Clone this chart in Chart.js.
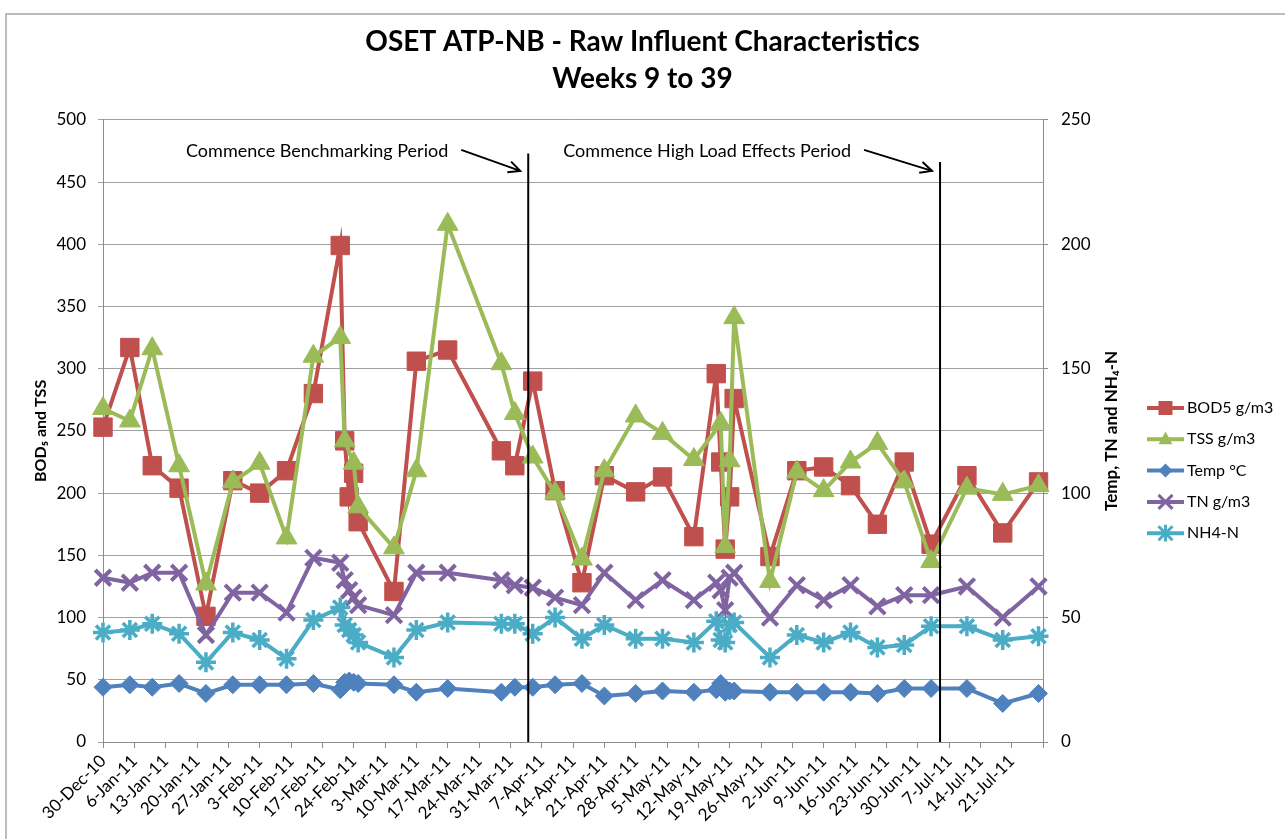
<!DOCTYPE html>
<html lang="en">
<head>
    <meta charset="UTF-8">
    <title>OSET ATP-NB - Raw Influent Characteristics</title>
    <script src="https://cdn.jsdelivr.net/npm/chart.js"></script>
    <style>
        body {
            margin: 0;
            background: #fff;
        }

        #wrap {
            width: 1285px;
            height: 839px;
        }
    </style>
</head>
<body>
    <div id="wrap"><canvas id="influentChart" width="1285" height="839"></canvas></div>

    <script>
        // Sample dates (weeks 9 to 39) and measured values
        const sampleDates = [
            '2010-12-30', '2011-01-05', '2011-01-10', '2011-01-16', '2011-01-22', '2011-01-28',
            '2011-02-03', '2011-02-09', '2011-02-15', '2011-02-21', '2011-02-22', '2011-02-23',
            '2011-02-24', '2011-02-25', '2011-03-05', '2011-03-10', '2011-03-17', '2011-03-29',
            '2011-04-01', '2011-04-05', '2011-04-10', '2011-04-16', '2011-04-21', '2011-04-28',
            '2011-05-04', '2011-05-11', '2011-05-16', '2011-05-17', '2011-05-18', '2011-05-19',
            '2011-05-20', '2011-05-28', '2011-06-03', '2011-06-09', '2011-06-15', '2011-06-21',
            '2011-06-27', '2011-07-03', '2011-07-11', '2011-07-19', '2011-07-27'
        ];
        const bod5 = [253, 317, 222, 204, 101, 210, 200, 218, 280, 399, 242, 197, 216, 177, 121, 306, 315, 234,
            222, 290, 202, 128, 214, 201, 213, 165, 296, 225, 155, 197, 276, 149, 218, 221, 206, 175, 225, 159,
            214, 168, 209];
        const tss = [268, 258, 316, 222, 127, 209, 224, 164, 310, 325, 242, null, 224, 189, 156, 218, 416, 304,
            264, 229, 200, 147, 218, 262, 248, 227, null, 256, 157, 226, 341, 129, 217, 202, 225, 240, 209, 145,
            204, 199, 206];
        const tempC = [22, 23, 22, 23.5, 19.5, 23, 23, 23, 23.5, 21, 24, 24.5, 24, 23.5, 23, 20, 21.5, 20,
            22, 22, 23, 23.5, 18.5, 19.5, 20.5, 20, 21, 23.5, 20, 20.5, 20.5, 20, 20, 20, 20, 19.5, 21.5, 21.5,
            21.5, 15.5, 19.5];
        const tn = [66, 64, 68, 68, 43, 60, 60, 52, 74, 72, 65, 61, 58, 55, 51, 68, 68, 65,
            63, 62, 58, 55, 68, 57, 65, 57, 64, 61, 53, 66, 68, 50, 63, 57, 63, 54.5, 59, 59,
            62.5, 50, 62.5];
        const nh4 = [44, 45, 47.5, 43.5, 32, 44, 41, 33.5, 49, 54, 47, 45, 43, 40, 34, 45, 48, 47.5,
            47.5, 43.5, 50, 41.5, 47, 41.5, 41.5, 40, 48.5, 41, 40, 47, 48, 34, 43, 40, 44, 38, 39, 46.5,
            46.5, 41, 42.5];

        // Period markers
        const periodStarts = ['2011-04-04', '2011-07-05'];
        const periodNotes = ['Commence Benchmarking Period', 'Commence High Load Effects Period'];

        const FONT = 'Lato, "Open Sans", sans-serif';
        const months = ['Jan', 'Feb', 'Mar', 'Apr', 'May', 'Jun', 'Jul', 'Aug', 'Sep', 'Oct', 'Nov', 'Dec'];
        const origin = Date.UTC(2010, 11, 30);
        const DAY = 86400000;

        function dayOf(iso) {
            const [y, m, d] = iso.split('-').map(Number);
            return (Date.UTC(y, m - 1, d) - origin) / DAY;
        }

        function dateLabel(day) {
            const dt = new Date(origin + day * DAY);
            return dt.getUTCDate() + '-' + months[dt.getUTCMonth()] + '-' + String(dt.getUTCFullYear()).slice(2);
        }

        function series(values) {
            return sampleDates.map((d, i) => ({ x: dayOf(d), y: values[i] }));
        }

        // simple marker drawing for the legend
        function drawMarker(ctx, style, x, y, r, color, bw) {
            ctx.save();
            ctx.fillStyle = color;
            ctx.strokeStyle = color;
            ctx.lineWidth = bw;
            ctx.beginPath();
            if (style === 'rect') {
                ctx.rect(x - r, y - r, 2 * r, 2 * r);
                ctx.fill();
            } else if (style === 'triangle') {
                ctx.moveTo(x, y - r * 1.1);
                ctx.lineTo(x + r, y + r * 0.7);
                ctx.lineTo(x - r, y + r * 0.7);
                ctx.closePath();
                ctx.fill();
            } else if (style === 'rectRot') {
                ctx.moveTo(x, y - r);
                ctx.lineTo(x + r, y);
                ctx.lineTo(x, y + r);
                ctx.lineTo(x - r, y);
                ctx.closePath();
                ctx.fill();
            } else {
                ctx.moveTo(x - r, y - r); ctx.lineTo(x + r, y + r);
                ctx.moveTo(x - r, y + r); ctx.lineTo(x + r, y - r);
                if (style === 'star') {
                    ctx.moveTo(x, y - r * 1.2); ctx.lineTo(x, y + r * 1.2);
                }
                ctx.stroke();
            }
            ctx.restore();
        }

        const extrasPlugin = {
            id: 'extras',
            beforeDraw(chart) {
                const ctx = chart.ctx;
                ctx.save();
                ctx.strokeStyle = '#a6a6a6';
                ctx.lineWidth = 1.5;
                ctx.beginPath();
                ctx.moveTo(6, 839);
                ctx.lineTo(6, 14);
                ctx.lineTo(1285, 14);
                ctx.stroke();
                ctx.restore();
            },
            afterDatasetsDraw(chart) {
                const ctx = chart.ctx;
                const xs = chart.scales.x;
                const ys = chart.scales.y;
                const area = chart.chartArea;
                const tops = [473, 466];
                const textGaps = [80, 89];
                ctx.save();
                periodStarts.forEach((d, i) => {
                    const px = xs.getPixelForValue(dayOf(d));
                    const top = ys.getPixelForValue(tops[i]);
                    ctx.strokeStyle = '#000';
                    ctx.lineWidth = 2;
                    ctx.beginPath();
                    ctx.moveTo(px, top);
                    ctx.lineTo(px, area.bottom);
                    ctx.stroke();

                    // note text and arrow
                    const ty = ys.getPixelForValue(475);
                    ctx.font = '18px ' + FONT;
                    ctx.fillStyle = '#000';
                    ctx.textAlign = 'right';
                    ctx.textBaseline = 'middle';
                    const tx = px - textGaps[i];
                    ctx.fillText(periodNotes[i], tx, ty);
                    const ax0 = tx + 13, ay0 = ty - 1;
                    const ax1 = px - 8, ay1 = ty + 20;
                    ctx.beginPath();
                    ctx.moveTo(ax0, ay0);
                    ctx.lineTo(ax1, ay1);
                    const ang = Math.atan2(ay1 - ay0, ax1 - ax0);
                    ctx.moveTo(ax1 - 13 * Math.cos(ang - 0.45), ay1 - 13 * Math.sin(ang - 0.45));
                    ctx.lineTo(ax1, ay1);
                    ctx.lineTo(ax1 - 13 * Math.cos(ang + 0.45), ay1 - 13 * Math.sin(ang + 0.45));
                    ctx.stroke();
                });
                ctx.restore();
            },
            afterDraw(chart) {
                const ctx = chart.ctx;
                const ys = chart.scales.y;
                // right axis title, reading bottom to top
                ctx.save();
                ctx.translate(1112, (ys.top + ys.bottom) / 2);
                ctx.rotate(-Math.PI / 2);
                ctx.font = 'bold 17px ' + FONT;
                ctx.fillStyle = '#000';
                ctx.textAlign = 'center';
                ctx.textBaseline = 'middle';
                ctx.fillText('Temp, TN and NH\u2084-N', 0, 0);
                ctx.restore();

                // legend
                ctx.save();
                ctx.font = '16px ' + FONT;
                ctx.textAlign = 'left';
                ctx.textBaseline = 'middle';
                chart.data.datasets.forEach((ds, i) => {
                    const y = 408 + i * 31.3;
                    ctx.strokeStyle = ds.borderColor;
                    ctx.lineWidth = 4;
                    ctx.beginPath();
                    ctx.moveTo(1147, y);
                    ctx.lineTo(1184, y);
                    ctx.stroke();
                    drawMarker(ctx, ds.pointStyle, 1165.5, y, 7, ds.borderColor, 3);
                    ctx.fillStyle = '#000';
                    ctx.fillText(ds.label, 1187, y);
                });
                ctx.restore();
            }
        };

        const tickFont = { family: FONT, size: 17 };

        const ctx = document.getElementById('influentChart').getContext('2d');
        const influentChart = new Chart(ctx, {
            type: 'line',
            data: {
                datasets: [
                    {
                        label: 'BOD5 g/m3',
                        data: series(bod5),
                        yAxisID: 'y',
                        borderColor: '#C0504D',
                        backgroundColor: '#C0504D',
                        pointStyle: 'rect',
                        pointRadius: 13,
                        pointBorderWidth: 1,
                        order: 5
                    },
                    {
                        label: 'TSS g/m3',
                        data: series(tss),
                        yAxisID: 'y',
                        borderColor: '#9BBB59',
                        backgroundColor: '#9BBB59',
                        pointStyle: 'triangle',
                        pointRadius: 12,
                        pointBorderWidth: 1,
                        order: 4
                    },
                    {
                        label: 'Temp \u00B0C',
                        data: series(tempC),
                        yAxisID: 'y1',
                        borderColor: '#4F81BD',
                        backgroundColor: '#4F81BD',
                        pointStyle: 'rectRot',
                        pointRadius: 9,
                        pointBorderWidth: 1,
                        order: 3
                    },
                    {
                        label: 'TN g/m3',
                        data: series(tn),
                        yAxisID: 'y1',
                        borderColor: '#8064A2',
                        backgroundColor: '#8064A2',
                        pointStyle: 'crossRot',
                        pointRadius: 11,
                        pointBorderWidth: 4,
                        order: 2
                    },
                    {
                        label: 'NH4-N',
                        data: series(nh4),
                        yAxisID: 'y1',
                        borderColor: '#4BACC6',
                        backgroundColor: '#4BACC6',
                        pointStyle: 'star',
                        pointRadius: 10,
                        pointBorderWidth: 3.5,
                        order: 1
                    }
                ]
            },
            options: {
                responsive: false,
                animation: false,
                spanGaps: true,
                datasets: {
                    line: {
                        borderWidth: 4,
                        tension: 0,
                        clip: false
                    }
                },
                layout: { padding: 0 },
                scales: {
                    x: {
                        type: 'linear',
                        min: 0,
                        max: 210,
                        ticks: {
                            stepSize: 7,
                            autoSkip: false,
                            minRotation: 45,
                            maxRotation: 45,
                            color: '#000',
                            font: tickFont,
                            padding: 3,
                            callback: v => (v < 210 ? dateLabel(v) : '')
                        },
                        grid: { drawOnChartArea: false, tickLength: 6, color: '#8c8c8c' },
                        border: { color: '#8c8c8c' },
                        afterFit(scale) { scale.height = 97; }
                    },
                    y: {
                        position: 'left',
                        min: 0,
                        max: 500,
                        ticks: { stepSize: 50, color: '#000', font: tickFont, padding: 12 },
                        grid: { color: '#a0a0a0', tickLength: 5 },
                        border: { color: '#8c8c8c' },
                        title: {
                            display: true,
                            text: 'BOD\u2085 and TSS',
                            color: '#000',
                            font: { family: FONT, size: 16, weight: 'bold' },
                            padding: { top: 31, bottom: 0 }
                        },
                        afterFit(scale) { scale.width = 103; }
                    },
                    y1: {
                        position: 'right',
                        min: 0,
                        max: 250,
                        ticks: { stepSize: 50, color: '#000', font: tickFont, padding: 13 },
                        grid: { drawOnChartArea: false, tickLength: 5, color: '#8c8c8c' },
                        border: { color: '#8c8c8c' },
                        afterFit(scale) { scale.width = 242; }
                    }
                },
                plugins: {
                    legend: { display: false },
                    tooltip: { enabled: false },
                    title: {
                        display: true,
                        text: ['OSET ATP-NB - Raw Influent Characteristics', 'Weeks 9 to 39'],
                        color: '#000',
                        font: { family: FONT, size: 28, weight: 'bold', lineHeight: 1.3 },
                        padding: { top: 24, bottom: 23 }
                    }
                }
            },
            plugins: [extrasPlugin]
        });
    </script>
</body>
</html>
